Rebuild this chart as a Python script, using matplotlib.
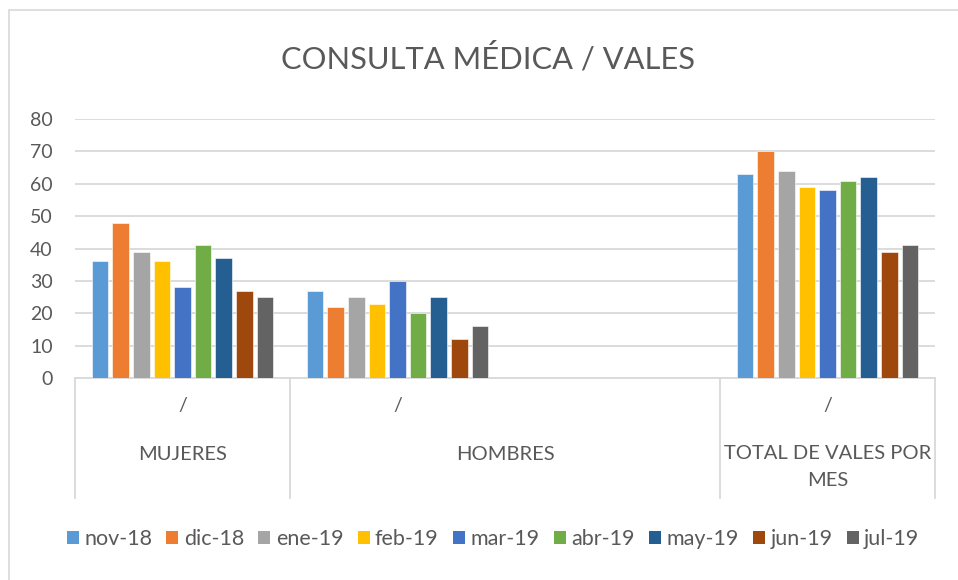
import matplotlib
matplotlib.use("Agg")
import matplotlib.pyplot as plt
from matplotlib.patches import Patch, Rectangle
from matplotlib.lines import Line2D
import numpy as np

plt.rcParams["font.family"] = ["Lato", "DejaVu Sans"]

months = ["nov-18", "dic-18", "ene-19", "feb-19", "mar-19", "abr-19", "may-19", "jun-19", "jul-19"]
colors = ["#5B9BD5", "#ED7D31", "#A5A5A5", "#FFC000", "#4472C4",
          "#70AD47", "#255E91", "#9E480E", "#636363"]

# slots on the category axis: MUJERES, HOMBRES, (empty), TOTAL
mujeres = [36, 48, 39, 36, 28, 41, 37, 27, 25]
hombres = [27, 22, 25, 23, 30, 20, 25, 12, 16]
vacio = [None] * 9
total = [63, 70, 64, 59, 58, 61, 62, 39, 41]
slot_labels = ["/", "/", "", "/"]
groups = [("MUJERES", 0, 0), ("HOMBRES", 1, 2), ("TOTAL DE VALES POR\nMES", 3, 3)]

series = list(zip(mujeres, hombres, vacio, total))
text_color = "#595959"
grid_color = "#D9D9D9"

W, H = 958, 580
fig = plt.figure(figsize=(W / 100, H / 100), dpi=100)

# chart border
fig.patches.append(Rectangle((9 / W, -0.01), (W - 7) / W, 1 - 10 / H + 0.01,
                             transform=fig.transFigure, fill=False,
                             edgecolor=grid_color, linewidth=1.2))

left, right = 75 / W, 935 / W
bottom, top = 1 - 378 / H, 1 - 119 / H
ax = fig.add_axes([left, bottom, right - left, top - bottom])

step = 0.0958
width = 0.078
x = np.arange(4)
for i, (name, vals) in enumerate(zip(months, series)):
    vals = np.array([np.nan if v is None else v for v in vals], dtype=float)
    ax.bar(x + (i - 4) * step, vals, width, color=colors[i],
           edgecolor="white", linewidth=0.4, label=name, zorder=3)

ax.set_xlim(-0.5, 3.5)
ax.set_ylim(0, 80)
ax.set_yticks(range(0, 81, 10))
ax.yaxis.grid(True, color=grid_color, linewidth=1.3, zorder=0)
ax.tick_params(axis="y", length=0, pad=16, labelsize=14, labelcolor=text_color)
ax.set_xticks([])
for s in ["left", "right", "top"]:
    ax.spines[s].set_visible(False)
ax.spines["bottom"].set_color(grid_color)
ax.spines["bottom"].set_linewidth(1.3)

# multi-level category axis
def to_fig_y(py):
    return 1 - py / H

def slot_x(v):
    return left + (v + 0.5) / 4 * (right - left)

for b in [-0.5, 0.5, 2.5, 3.5]:
    xf = slot_x(b)
    fig.add_artist(Line2D([xf, xf], [to_fig_y(378), to_fig_y(498)],
                          color=grid_color, linewidth=1.3))

for i, lab in enumerate(slot_labels):
    if lab:
        fig.text(slot_x(i), to_fig_y(405), lab, ha="center", va="center",
                 fontsize=14, color=text_color)

for lab, a, b in groups:
    yc = 467 if "\n" in lab else 455
    fig.text((slot_x(a) + slot_x(b)) / 2, to_fig_y(yc), lab, ha="center",
             va="center", fontsize=14.5, color=text_color, linespacing=1.65)

fig.text(488 / W, to_fig_y(58), "CONSULTA MÉDICA / VALES", ha="center",
         va="center", fontsize=22.2, color=text_color)

handles = [Patch(facecolor=c, edgecolor="none") for c in colors]
fig.legend(handles, months, loc="center", bbox_to_anchor=(493 / W, to_fig_y(539)),
           ncol=9, frameon=False, fontsize=15.5, labelcolor=text_color,
           handlelength=0.56, handleheight=0.56, handletextpad=0.25,
           columnspacing=0.66, borderpad=0, borderaxespad=0)

fig.savefig("out.png", dpi=100)
